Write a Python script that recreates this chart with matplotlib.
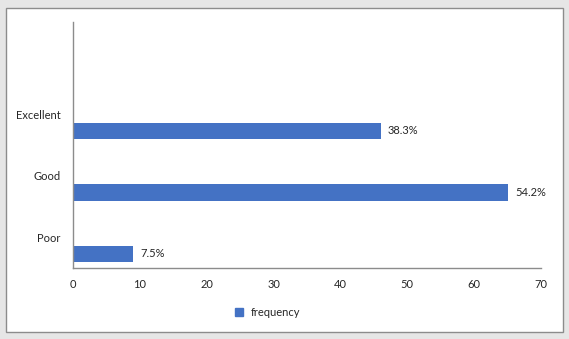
import matplotlib
matplotlib.use("Agg")
import matplotlib.pyplot as plt
from matplotlib.patches import Rectangle
from matplotlib.lines import Line2D

categories = ["Poor", "Good", "Excellent"]
frequency = [9, 65, 46]
percent_labels = ["7.5%", "54.2%", "38.3%"]
xticks = [0, 10, 20, 30, 40, 50, 60, 70]

plt.rcParams['font.family'] = ['Lato', 'DejaVu Sans']
W, H = 569, 339
fig = plt.figure(figsize=(W/100, H/100), dpi=100)
fig.patch.set_facecolor('#e6e6e6')
fig.patches.append(Rectangle((6/W, 1-332/H), (563-6)/W, (332-8)/H, transform=fig.transFigure,
                             facecolor='white', edgecolor='#8c8c8c', linewidth=1.0, zorder=-10))

ax = fig.add_axes([73/W, 1-268/H, (541-73)/W, (268-22)/H])
ax.set_facecolor('none')
color = '#4472C4'
pos = list(range(len(categories)))
ax.barh(pos, frequency, height=0.27, color=color, label='frequency')
for p, v, t in zip(pos, frequency, percent_labels):
    ax.text(v + 1.1, p, t, va='center', ha='left', fontsize=8, color='#262626')

ax.set_xlim(0, 70)
ax.set_ylim(-0.23, 3.77)
ax.set_xticks(xticks)
ax.set_xticklabels([str(x) for x in xticks], fontsize=8, color='#262626')
ax.set_yticks([p + 0.27 for p in pos])
ax.set_yticklabels(categories, fontsize=8, color='#262626')
ax.tick_params(axis='both', length=0)
ax.tick_params(axis='x', pad=8)
ax.tick_params(axis='y', pad=9)
for s in ['top', 'right']:
    ax.spines[s].set_visible(False)
for s in ['left', 'bottom']:
    ax.spines[s].set_color('#8c8c8c')
    ax.spines[s].set_linewidth(1.0)

handle = Line2D([], [], marker='s', linestyle='none', markersize=5.5, color=color)
fig.legend([handle], ['frequency'], loc='center', bbox_to_anchor=(264/W, 1-312/H),
           frameon=False, fontsize=8, handletextpad=0.1, labelcolor='#262626')

fig.savefig('out.png', dpi=100, facecolor=fig.get_facecolor())
